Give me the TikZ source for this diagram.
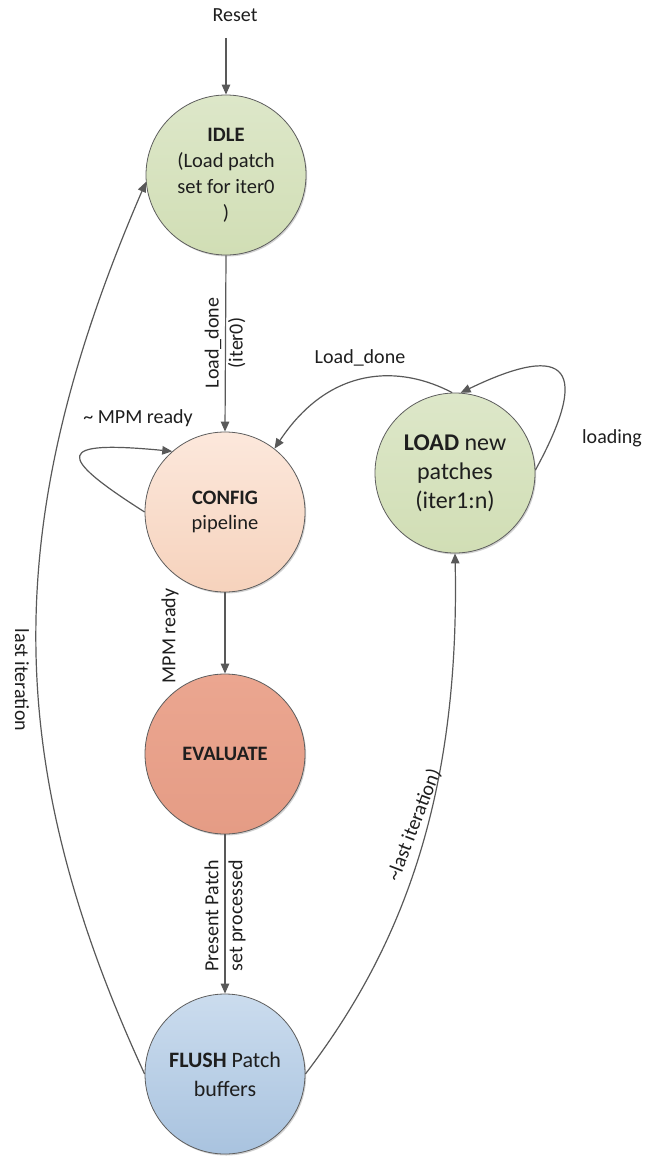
\documentclass[tikz,border=0pt]{standalone}
\usepackage{fontspec}
\setmainfont{Carlito}
\usetikzlibrary{arrows.meta,shadows}
\definecolor{ink}{HTML}{1E1E1E}
\definecolor{linegray}{HTML}{595959}
\definecolor{edgegray}{HTML}{5E5E5E}
\definecolor{greenTop}{HTML}{DDE7C9}
\definecolor{greenBot}{HTML}{D1DEB5}
\definecolor{peachTop}{HTML}{FCE8DC}
\definecolor{peachBot}{HTML}{F6D2BC}
\definecolor{salmonTop}{HTML}{EBA690}
\definecolor{salmonBot}{HTML}{E59C85}
\definecolor{blueTop}{HTML}{CBDCEE}
\definecolor{blueBot}{HTML}{A9C3DF}
\begin{document}
\begin{tikzpicture}[x=1pt,y=-1pt,
  state/.style={circle, draw=edgegray, line width=0.8pt, minimum size=160pt,
    inner sep=0pt, align=center, text=ink,
    drop shadow={shadow xshift=1.2pt, shadow yshift=-1.5pt, opacity=0.18, fill=black}},
  conn/.style={draw=linegray, line width=1.2pt, -{Triangle[length=10pt,width=8.5pt]}},
  lbl/.style={font=\fontsize{20}{24}\selectfont, text=ink, inner sep=0pt, align=center}]
\useasboundingbox (0,0) rectangle (647,1156);

% states
\node[state, top color=greenTop, bottom color=greenBot,
      font=\fontsize{20.5}{26}\selectfont] (idle) at (226,175)
  {\textbf{IDLE}\\(Load patch\\set for iter0\\)};
\node[state, top color=peachTop, bottom color=peachBot,
      font=\fontsize{20.5}{25}\selectfont] (config) at (225,512)
  {\textbf{CONFIG}\\pipeline};
\node[state, top color=greenTop, bottom color=greenBot,
      font=\fontsize{24}{29}\selectfont] (load) at (455,473)
  {\textbf{LOAD} new\\patches\\(iter1:n)};
\node[state, top color=salmonTop, bottom color=salmonBot,
      font=\fontsize{20.5}{25}\selectfont] (evaluate) at (225,754)
  {\textbf{EVALUATE}};
\node[state, top color=blueTop, bottom color=blueBot,
      font=\fontsize{22}{29}\selectfont] (flush) at (225,1074)
  {\textbf{FLUSH} Patch\\buffers};

% reset entry
\node[lbl] (reset) at (235,15) {Reset};
\coordinate (rs) at (226,38);
\draw[conn] (rs) -- (idle.north);

% main flow
\draw[conn] (idle.south) -- (config.north);
\node[lbl, rotate=90] (l1) at (225,343) {Load\_done\\(iter0)};

\draw[conn] (config.south) -- (evaluate.north);
\node[lbl, rotate=90] (l2) at (170,636) {MPM ready};

\draw[conn] (evaluate.south) -- (flush.north);
\node[lbl, rotate=90] (l3) at (225,916) {Present Patch\\set processed};

% config waits
\draw[conn] (config.180) .. controls (55,455) and (55,440) .. (config.131);
\node[lbl] (l4) at (138,418) {\textasciitilde{} MPM ready};

% loading of further patch sets
\draw[conn] (load.92) .. controls (400,365) and (330,365) .. (config.52);
\node[lbl] (l5) at (360,358) {Load\_done};

\draw[conn] (load.2) .. controls (590,370) and (570,340) .. (load.86);
\node[lbl] (l6) at (612,438) {loading};

% back edges from flush
\draw[conn] (flush.180) .. controls (0,760) and (0,520) .. (idle.185);
\node[lbl, rotate=-90] (l7) at (22,680) {last iteration};

\draw[conn] (flush.0) .. controls (400,950) and (460,800) .. (load.south);
\node[lbl, rotate=69] (l8) at (414,825) {\textasciitilde last iteration)};
\end{tikzpicture}
\end{document}
